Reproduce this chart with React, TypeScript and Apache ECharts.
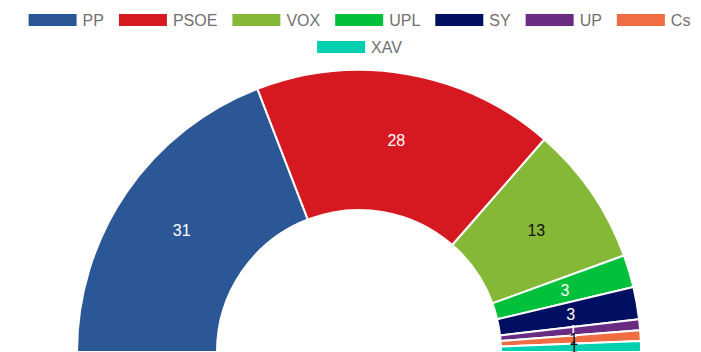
import React, { useEffect, useRef } from "react";
import * as echarts from "echarts";

const parties = ["PP", "PSOE", "VOX", "UPL", "SY", "UP", "Cs", "XAV"];
const seats = [31, 28, 13, 3, 3, 1, 1, 1];
const colors = ["#2b5797", "#d61920", "#86b838", "#00c03c", "#000f62", "#6a2b82", "#f06c42", "#00cfb0"];
const labelColors = ["#fff", "#fff", "#111", "#fff", "#fff", "#fff", "#111", "#111"];
const legendRow1 = parties.slice(0, 7);
const legendRow2 = parties.slice(7);

export default function App() {
  const ref = useRef<HTMLDivElement>(null);
  useEffect(() => {
    const chart = echarts.init(ref.current!, null, { renderer: "svg" });
    const legendBase = {
      left: "center",
      icon: "rect",
      itemWidth: 50,
      itemHeight: 14,
      itemGap: 13,
      textStyle: { color: "#707070", fontSize: 16, fontFamily: "Arial, Liberation Sans" },
    };
    chart.setOption({
      animation: false,
      legend: [
        { ...legendBase, top: 7, data: legendRow1 },
        { ...legendBase, top: 34, data: legendRow2 },
      ],
      series: [
        {
          type: "pie",
          center: [351, 352],
          radius: [142, 282],
          startAngle: 180,
          endAngle: 0,
          clockwise: true,
          avoidLabelOverlap: false,
          labelLayout: { hideOverlap: false },
          itemStyle: { borderColor: "#fff", borderWidth: 2 },
          label: { show: true, position: "inside", fontSize: 16, fontFamily: "Arial, Liberation Sans" },
          labelLine: { show: false },
          data: parties.map((p, i) => ({
            name: p,
            value: seats[i],
            itemStyle: { color: colors[i] },
            label: { color: labelColors[i], formatter: "{c}" },
          })),
        },
      ],
    });
    return () => chart.dispose();
  }, []);
  return (
    <div
      ref={ref}
      style={{ position: "absolute", left: 8, top: 0, width: 701, height: 352 }}
    />
  );
}
